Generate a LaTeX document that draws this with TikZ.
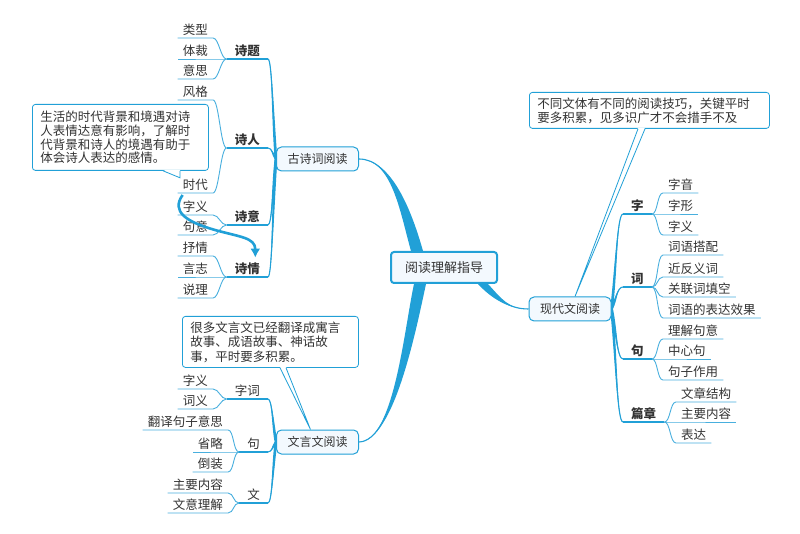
\documentclass[tikz,border=0pt]{standalone}
\usepackage{fontspec}
\setmainfont{Noto Sans CJK SC}
\usetikzlibrary{calc,positioning,arrows.meta,backgrounds}
\definecolor{branchblue}{RGB}{33,160,215}
\definecolor{twigblue}{RGB}{72,175,222}
\definecolor{boxfill}{RGB}{243,249,254}
\definecolor{inkgray}{RGB}{51,51,51}
\tikzset{
  leaf/.style={inner xsep=5pt, inner ysep=0pt, text height=10pt, text depth=3pt,
    font=\fontsize{12.5}{14}\selectfont, text=inkgray},
  sub/.style={leaf, inner xsep=8pt},
  subbf/.style={sub, font=\fontsize{12.5}{14}\selectfont\bfseries},
  twig/.style={twigblue, line width=0.9pt},
  limb/.style={branchblue, line width=1.2pt},
  topic/.style={draw=branchblue, fill=boxfill, line width=1pt, rounded corners=5pt,
    minimum width=82pt, minimum height=24pt, font=\fontsize{12}{14}\selectfont, text=inkgray},
  root/.style={draw=branchblue, fill=boxfill, line width=2pt, rounded corners=3pt,
    minimum width=106pt, minimum height=31pt, font=\fontsize{13}{15}\selectfont, text=inkgray},
  note/.style={draw=branchblue, fill=white, line width=0.8pt, rounded corners=3pt,
    anchor=north west, align=left, inner xsep=8pt, text=inkgray},
  noteline/.style={branchblue, line width=0.8pt},
}
% tapered branch: thin at #1, half width #5 at #4
\newcommand{\taper}[5]{\fill[branchblue] (#1) .. controls (#2) and ($(#3)+(#5,0)$) .. ($(#4)+(#5,0)$)
  -- ($(#4)-(#5,0)$) .. controls ($(#3)-(#5,0)$) and (#2) .. (#1) -- cycle;
  \draw[branchblue, line width=1.1pt] (#1) .. controls (#2) and (#3) .. (#4);}

\begin{document}
\begin{tikzpicture}[x=1pt,y=-1pt]
  \useasboundingbox (0,0) rectangle (800,534);

  % main topics
  \node[root] (cen) at (444,267.5) {阅读理解指导};
  \node[topic] (gs) at (317.5,159) {古诗词阅读};
  \node[topic] (wy) at (317.5,442) {文言文阅读};
  \node[topic] (xd) at (570,309) {现代文阅读};

  % 古诗词阅读
  \node[subbf, anchor=south east] (st) at (268,59) {诗题};
  \node[subbf, anchor=south east] (sr) at (268,148) {诗人};
  \node[subbf, anchor=south east] (sy) at (268,225) {诗意};
  \node[subbf, anchor=south east] (sq) at (268,277) {诗情};
  \foreach \t/\y [count=\i] in {类型/38,体裁/59,意思/79}
    \node[leaf, anchor=south east] (st\i) at (213,\y) {\t};
  \foreach \t/\y [count=\i] in {风格/100,时代/193}
    \node[leaf, anchor=south east] (sr\i) at (213,\y) {\t};
  \foreach \t/\y [count=\i] in {字义/215,句意/235}
    \node[leaf, anchor=south east] (sy\i) at (213,\y) {\t};
  \foreach \t/\y [count=\i] in {抒情/256,言志/277,说理/298}
    \node[leaf, anchor=south east] (sq\i) at (213,\y) {\t};

  % 文言文阅读
  \node[sub, anchor=south east] (zc) at (268,399) {字词};
  \node[sub, anchor=south east] (ju) at (268,452) {句};
  \node[sub, anchor=south east] (wen) at (268,503) {文};
  \foreach \t/\y [count=\i] in {字义/389,词义/409}
    \node[leaf, anchor=south east] (zc\i) at (213,\y) {\t};
  \foreach \t/\y [count=\i] in {翻译句子意思/430,省略/452,倒装/472}
    \node[leaf, anchor=south east] (ju\i) at (228,\y) {\t};
  \foreach \t/\y [count=\i] in {主要内容/493,文意理解/513}
    \node[leaf, anchor=south east] (wen\i) at (228,\y) {\t};

  % 现代文阅读
  \node[subbf, anchor=south west] (zi) at (623,214) {字};
  \node[subbf, anchor=south west] (ci) at (623,287) {词};
  \node[subbf, anchor=south west] (jz) at (623,359) {句};
  \node[subbf, anchor=south west] (pz) at (623,422) {篇章};
  \foreach \t/\y [count=\i] in {字音/193,字形/214,字义/235}
    \node[leaf, anchor=south west] (zi\i) at (663,\y) {\t};
  \foreach \t/\y [count=\i] in {词语搭配/255,近反义词/277,关联词填空/297,词语的表达效果/318}
    \node[leaf, anchor=south west] (ci\i) at (663,\y) {\t};
  \foreach \t/\y [count=\i] in {理解句意/339,中心句/359,句子作用/380}
    \node[leaf, anchor=south west] (jz\i) at (663,\y) {\t};
  \foreach \t/\y [count=\i] in {文章结构/402,主要内容/422,表达/443}
    \node[leaf, anchor=south west] (pz\i) at (676,\y) {\t};

  % notes
  \node[note, text width=160pt, minimum height=66pt, font=\fontsize{12.5}{13.8}\selectfont] (nt1) at (32,104)
    {生活的时代背景和境遇对诗\\人表情达意有影响，了解时\\代背景和诗人的境遇有助于\\体会诗人表达的感情。};
  \node[note, text width=160pt, minimum height=51pt, font=\fontsize{12.5}{14.5}\selectfont] (nt2) at (182,316)
    {很多文言文已经翻译成寓言\\故事、成语故事、神话故\\事，平时要多积累。};
  \node[note, text width=224pt, minimum height=36pt, font=\fontsize{12.5}{14}\selectfont] (nt3) at (529,92)
    {不同文体有不同的阅读技巧，关键平时\\要多积累，见多识广才不会措手不及};
  \coordinate (p1) at ([xshift=148pt,yshift=-7pt]nt1.south west);
  \coordinate (p2) at ([xshift=-7pt]wy.north);
  \coordinate (p3) at ([xshift=5pt]xd.north);
  \fill[white] ([xshift=131pt,yshift=1pt]nt1.south west) -- (p1) -- ([xshift=148pt,yshift=1pt]nt1.south west) -- cycle;
  \draw[noteline] ([xshift=131pt]nt1.south west) -- (p1) -- ([xshift=148pt]nt1.south west);
  \fill[white] ([xshift=98pt,yshift=1pt]nt2.south west) -- (p2) -- ([xshift=104pt,yshift=1pt]nt2.south west) -- cycle;
  \draw[noteline] ([xshift=98pt]nt2.south west) -- (p2) -- ([xshift=104pt]nt2.south west);
  \fill[white] ([xshift=109pt,yshift=1pt]nt3.south west) -- (p3) -- ([xshift=116pt,yshift=1pt]nt3.south west) -- cycle;
  \draw[noteline] ([xshift=109pt]nt3.south west) -- (p3) -- ([xshift=116pt]nt3.south west);

  % relation arrow
  \draw[branchblue, line width=2.6pt, -{Latex[length=9pt,width=10pt]}]
    ([xshift=5pt,yshift=-2pt]sr2.south west) .. controls +(-12,17) and +(-28,-8) .. (215,230)
    .. controls +(25,7) and +(0,-20) .. ([xshift=8pt,yshift=6pt]sq.north);

  \begin{scope}[on background layer]
    \fill[white] (0,0) rectangle (800,534);
    \coordinate (cj1) at ([xshift=27pt]cen.north west);
    \coordinate (cj2) at ([xshift=30pt]cen.south west);
    \coordinate (cj3) at ([xshift=-15pt]cen.south east);
    \taper{gs.east}{392,159}{406,212}{cj1}{6}
    \taper{wy.east}{394,441}{410,330}{cj2}{6}
    \taper{xd.west}{508,309}{496,298}{cj3}{5}
    % left side branches
    \foreach \s in {st,sr,sy,sq}{
      \coordinate (k0) at ($(\s.south east)+(4,0)$);
      \coordinate (k1) at ($(gs.west)!0.4!(\s.south east)$);
      \taper{\s.south east}{k0}{k1}{gs.west}{1.4}
      \draw[limb] (\s.south east) -- (\s.south west);
    }
    \foreach \s in {zc,ju,wen}{
      \coordinate (k0) at ($(\s.south east)+(4,0)$);
      \coordinate (k1) at ($(wy.west)!0.4!(\s.south east)$);
      \taper{\s.south east}{k0}{k1}{wy.west}{1.4}
      \draw[limb] (\s.south east) -- (\s.south west);
    }
    \foreach \s/\n in {st/3,sr/2,sy/2,sq/3,zc/2,ju/3,wen/2}
      \foreach \i in {1,...,\n}
        \draw[twig] (\s.south west) .. controls +(-6,0) and +(6,0) .. (\s\i.south east) -- (\s\i.south west);
    % right side branches
    \foreach \s in {zi,ci,jz,pz}{
      \coordinate (k0) at ($(\s.south west)+(-6,0)$);
      \coordinate (k1) at ($(xd.east)!0.4!(\s.south west)$);
      \taper{\s.south west}{k0}{k1}{xd.east}{1.4}
      \draw[limb] (\s.south west) -- (\s.south east);
    }
    \foreach \s/\n in {zi/3,ci/4,jz/3,pz/3}
      \foreach \i in {1,...,\n}
        \draw[twig] (\s.south east) .. controls +(6,0) and +(-6,0) .. (\s\i.south west) -- (\s\i.south east);
  \end{scope}
\end{tikzpicture}
\end{document}
